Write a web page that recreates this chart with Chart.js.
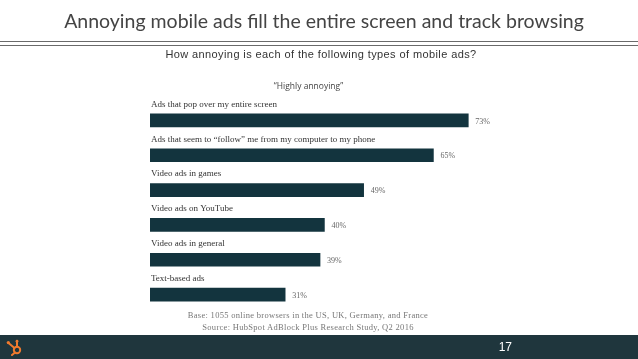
<!DOCTYPE html>
<html>
<head>
<meta charset="utf-8">
<script src="https://cdn.jsdelivr.net/npm/chart.js@4.4.0/dist/chart.umd.min.js"></script>
<style>
  html, body { margin: 0; padding: 0; background: #fff; }
  #page { position: relative; width: 638px; height: 359px; overflow: hidden; }
  #chart { position: absolute; left: 0; top: 0; }
  .txt { position: absolute; white-space: nowrap; }
  #title { left: 0; width: 648px; top: 9px; text-align: center; font: 19.5px Lato, sans-serif; color: #444; }
  .rule { position: absolute; left: 0; width: 638px; height: 1px; background: #6a6a6a; }
  #subtitle { left: 0; width: 642px; top: 48px; text-align: center; font: 11px "Liberation Sans", Arial, sans-serif; color: #333; letter-spacing: 0.4px; }
  #series { left: 0; width: 617px; top: 80px; text-align: center; font: 8.5px "Open Sans", sans-serif; color: #444; }
  .note { left: 0; width: 616px; text-align: center; font: 8.5px "Liberation Serif", serif; color: #777; letter-spacing: 0.3px; }
  #footer { position: absolute; left: 0; top: 335px; width: 638px; height: 24px; background: #1f363d; }
  #pagenum { right: 126px; top: 340px; font: 12px "Liberation Sans", Arial, sans-serif; color: #fff; }
  #logo { position: absolute; left: 6px; top: 338px; }
</style>
</head>
<body>
<div id="page">
  <canvas id="chart" width="638" height="359"></canvas>
  <div class="txt" id="title">Annoying mobile ads fill the entire screen and track browsing</div>
  <div class="rule" style="top:41px"></div>
  <div class="rule" style="top:45px"></div>
  <div class="txt" id="subtitle">How annoying is each of the following types of mobile ads?</div>
  <div class="txt" id="series">“Highly annoying”</div>
  <div class="txt note" style="top:310px">Base: 1055 online browsers in the US, UK, Germany, and France</div>
  <div class="txt note" style="top:322px">Source: HubSpot AdBlock Plus Research Study, Q2 2016</div>
  <div id="footer"></div>
  <svg id="logo" width="18" height="18" viewBox="0 0 18 18">
    <g stroke="#f07a2e" stroke-width="2" fill="none" stroke-linecap="round">
      <circle cx="11" cy="12" r="3.2"/>
      <line x1="11" y1="8.8" x2="11" y2="4"/>
      <line x1="8.5" y1="10" x2="2.5" y2="5"/>
      <line x1="9" y1="14.5" x2="6" y2="17"/>
    </g>
    <circle cx="2.3" cy="4.6" r="1.6" fill="#f07a2e"/>
    <circle cx="11" cy="3.2" r="1.4" fill="#f07a2e"/>
  </svg>
  <div class="txt" id="pagenum">17</div>
</div>
<script>
const categories = [
  'Ads that pop over my entire screen',
  'Ads that seem to “follow” me from my computer to my phone',
  'Video ads in games',
  'Video ads on YouTube',
  'Video ads in general',
  'Text-based ads'
];
const highlyAnnoying = [73, 65, 49, 40, 39, 31];

// labels above bars and values at the bar ends
const barLabels = {
  id: 'barLabels',
  afterDatasetsDraw(chart) {
    const ctx = chart.ctx;
    const meta = chart.getDatasetMeta(0);
    ctx.save();
    ctx.textBaseline = 'middle';
    meta.data.forEach((bar, i) => {
      ctx.fillStyle = '#333';
      ctx.font = '9px "Liberation Serif", serif';
      ctx.textAlign = 'left';
      ctx.fillText(categories[i], chart.chartArea.left + 1, bar.y - 16);
      ctx.fillStyle = '#666';
      ctx.font = '8px "Liberation Serif", serif';
      ctx.fillText(highlyAnnoying[i] + '%', bar.x + 7, bar.y + 1);
    });
    ctx.restore();
  }
};

new Chart(document.getElementById('chart'), {
  type: 'bar',
  data: {
    labels: categories,
    datasets: [{
      data: highlyAnnoying,
      backgroundColor: '#13343e',
      barThickness: 13,
      borderWidth: 0
    }]
  },
  options: {
    indexAxis: 'y',
    responsive: false,
    animation: false,
    layout: { padding: { left: 150, right: 52, top: 103, bottom: 47 } },
    plugins: { legend: { display: false }, tooltip: { enabled: false } },
    scales: {
      x: { display: false, min: 0, max: 100 },
      y: { display: false }
    }
  },
  plugins: [barLabels]
});
</script>
</body>
</html>
